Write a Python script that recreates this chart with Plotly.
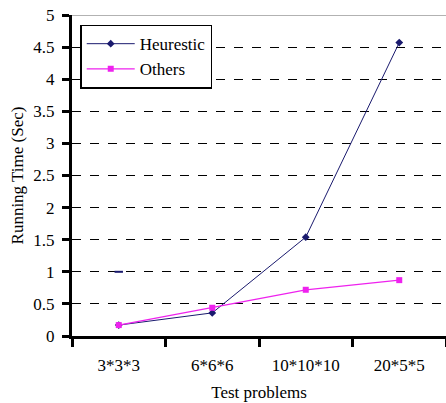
import plotly.graph_objects as go

categories = ["3*3*3", "6*6*6", "10*10*10", "20*5*5"]
heurestic = [0.17, 0.36, 1.54, 4.57]
others = [0.17, 0.44, 0.72, 0.87]
stray_x = ["3*3*3"]
stray_y = [1.0]
y_ticks = [0, 0.5, 1, 1.5, 2, 2.5, 3, 3.5, 4, 4.5, 5]
y_ticktext = ["0", "0.5", "1", "1.5", "2", "2.5", "3", "3.5", "4", "4.5", "5"]

font = "Liberation Serif"

fig = go.Figure()
fig.add_trace(go.Scatter(x=categories, y=heurestic, name="Heurestic", mode="lines+markers",
                         line=dict(color="#1a1a6e", width=1),
                         marker=dict(symbol="diamond", size=6, color="#1a1a6e")))
fig.add_trace(go.Scatter(x=categories, y=others, name="Others", mode="lines+markers",
                         line=dict(color="#ee22ee", width=1.3),
                         marker=dict(symbol="square", size=6, color="#ee22ee")))
fig.add_trace(go.Scatter(x=stray_x, y=stray_y, mode="markers", showlegend=False,
                         marker=dict(symbol="line-ew", size=6, color="#1a1a6e",
                                     line=dict(width=2, color="#1a1a6e"))))

fig.update_layout(
    width=446, height=403,
    margin=dict(l=72, r=0, t=15, b=67),
    paper_bgcolor="white", plot_bgcolor="white",
    font=dict(family=font, size=16, color="black"),
    showlegend=True,
    legend=dict(x=0.022, y=0.97, xanchor="left", yanchor="top",
                bgcolor="white", bordercolor="black", borderwidth=1.5,
                font=dict(family=font, size=17, color="black"),
                itemwidth=48, tracegroupgap=0),
    xaxis=dict(
        type="category", range=[-0.5, 3.5],
        showline=True, linecolor="black", linewidth=3,
        ticks="outside", tickson="boundaries", ticklen=8, tickwidth=3, tickcolor="black",
        showgrid=False, zeroline=False,
        tickfont=dict(family=font, size=17),
        ticklabelstandoff=12,
        title=dict(text="Test problems", font=dict(family=font, size=17), standoff=12),
        mirror=False,
    ),
    yaxis=dict(
        range=[0, 5], tickvals=y_ticks, ticktext=y_ticktext,
        showline=True, linecolor="black", linewidth=3,
        ticks="outside", ticklen=7, tickwidth=3, tickcolor="black",
        showgrid=True, gridcolor="black", griddash="dash", gridwidth=1,
        zeroline=False,
        tickfont=dict(family=font, size=17),
        ticklabelstandoff=4,
        title=dict(text="Running Time (Sec)", font=dict(family=font, size=17), standoff=6),
    ),
)
# thin grey frame at top
fig.add_shape(type="line", xref="paper", yref="y", x0=0, x1=1, y0=5, y1=5,
              line=dict(color="#999999", width=1.5))

fig.write_html("out.html")
